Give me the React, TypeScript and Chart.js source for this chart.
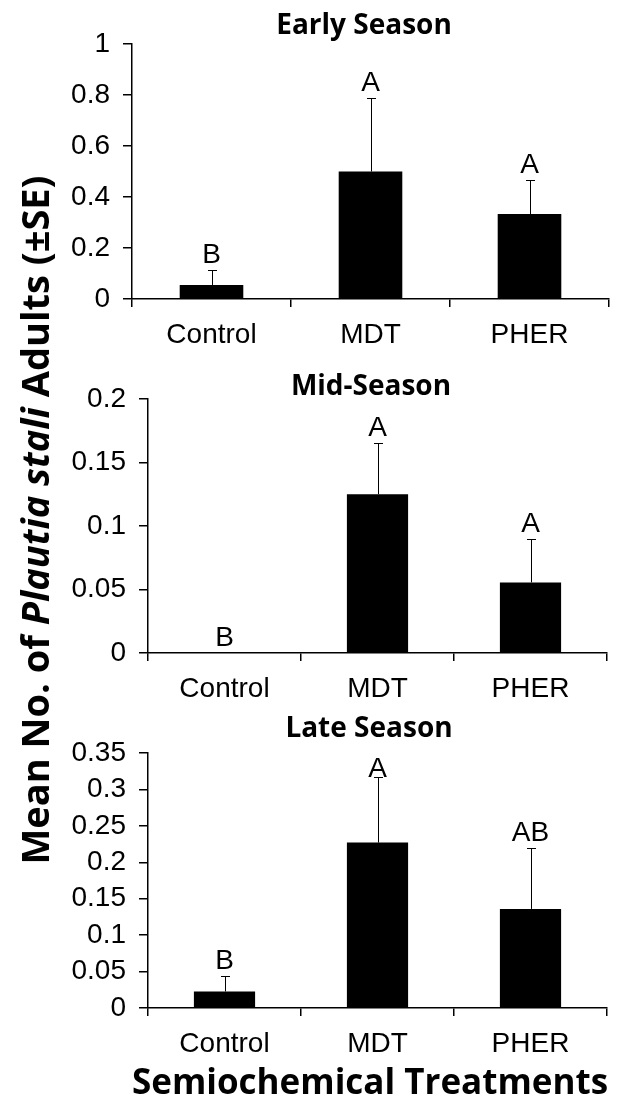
import React, { useEffect, useRef } from 'react';
import { Chart, registerables } from 'chart.js';

Chart.register(...registerables);

// ---------- data ----------
const categories = ['Control', 'MDT', 'PHER'];

const earlyMeans = [0.055, 0.5, 0.333];
const earlySE = [0.057, 0.29, 0.132];
const earlyLetters = ['B', 'A', 'A'];
const earlyTicks = [0, 0.2, 0.4, 0.6, 0.8, 1];

const midMeans = [0, 0.125, 0.0556];
const midSE = [0, 0.04, 0.034];
const midLetters = ['B', 'A', 'A'];
const midTicks = [0, 0.05, 0.1, 0.15, 0.2];

const lateMeans = [0.0227, 0.227, 0.136];
const lateSE = [0.0213, 0.09, 0.083];
const lateLetters = ['B', 'A', 'AB'];
const lateTicks = [0, 0.05, 0.1, 0.15, 0.2, 0.25, 0.3, 0.35];

const panelTitles = ['Early Season', 'Mid-Season', 'Late Season'];
const xAxisTitle = 'Semiochemical Treatments';

// ---------- styles ----------
const TICK_FONT = "'Liberation Sans', Arial, sans-serif";
const TITLE_FONT = "'Open Sans', Lato, sans-serif";
const TICK_SIZE = 28;

type PanelCfg = {
  top: number;
  height: number;
  padTop: number;
  padRight: number;
  yWidth: number;
  xHeight: number;
  means: number[];
  se: number[];
  letters: string[];
  ticks: number[];
  title: string;
  titleX: number;
  titleY: number;
  xTitle?: string;
  xTitleX?: number;
  xTitleY?: number;
};

const panels: PanelCfg[] = [
  {
    top: 0, height: 350, padTop: 44, padRight: 21, yWidth: 132, xHeight: 51,
    means: earlyMeans, se: earlySE, letters: earlyLetters, ticks: earlyTicks,
    title: panelTitles[0], titleX: 364, titleY: 34,
  },
  {
    top: 350, height: 350, padTop: 49, padRight: 23, yWidth: 148, xHeight: 47,
    means: midMeans, se: midSE, letters: midLetters, ticks: midTicks,
    title: panelTitles[1], titleX: 371, titleY: 45,
  },
  {
    top: 700, height: 398, padTop: 53, padRight: 23, yWidth: 148, xHeight: 90,
    means: lateMeans, se: lateSE, letters: lateLetters, ticks: lateTicks,
    title: panelTitles[2], titleX: 369, titleY: 37,
    xTitle: xAxisTitle, xTitleX: 370, xTitleY: 394,
  },
];

function Panel({ cfg }: { cfg: PanelCfg }) {
  const ref = useRef<HTMLCanvasElement | null>(null);

  useEffect(() => {
    if (!ref.current) return;
    const annot = {
      id: 'annot',
      afterDatasetsDraw(chart: any) {
        const ctx = chart.ctx;
        const y = chart.scales.y;
        const meta = chart.getDatasetMeta(0);
        const area = chart.chartArea;
        ctx.save();
        ctx.strokeStyle = '#000';
        ctx.lineWidth = 1;
        ctx.fillStyle = '#000';
        ctx.font = `${TICK_SIZE}px ${TICK_FONT}`;
        ctx.textAlign = 'center';
        ctx.textBaseline = 'alphabetic';
        cfg.means.forEach((m, i) => {
          const x = meta.data[i].x;
          const yBar = y.getPixelForValue(m);
          const yTop = y.getPixelForValue(m + cfg.se[i]);
          if (cfg.se[i] > 0) {
            ctx.beginPath();
            ctx.moveTo(Math.round(x) + 0.5, yBar);
            ctx.lineTo(Math.round(x) + 0.5, Math.round(yTop) + 0.5);
            ctx.moveTo(Math.round(x) - 4, Math.round(yTop) + 0.5);
            ctx.lineTo(Math.round(x) + 5, Math.round(yTop) + 0.5);
            ctx.stroke();
          }
          const base = Math.max(yTop - 7, area.top + 24);
          ctx.fillText(cfg.letters[i], x, base);
        });
        // panel title
        ctx.font = `bold 28px ${TITLE_FONT}`;
        ctx.fillText(cfg.title, cfg.titleX, cfg.titleY);
        if (cfg.xTitle) {
          ctx.font = `bold 35px ${TITLE_FONT}`;
          ctx.fillText(cfg.xTitle, cfg.xTitleX!, cfg.xTitleY!);
        }
        ctx.restore();
      },
    };

    const chart = new Chart(ref.current, {
      type: 'bar',
      data: {
        labels: categories,
        datasets: [
          {
            data: cfg.means,
            backgroundColor: '#000',
            borderWidth: 0,
            barPercentage: 0.4,
            categoryPercentage: 1,
          },
        ],
      },
      options: {
        responsive: false,
        animation: false,
        devicePixelRatio: 1,
        layout: { padding: { top: cfg.padTop, right: cfg.padRight, left: 0, bottom: 0 } },
        plugins: { legend: { display: false }, tooltip: { enabled: false }, title: { display: false } },
        scales: {
          x: {
            offset: true,
            grid: {
              display: true, drawOnChartArea: false, drawTicks: true, tickLength: 8,
              color: '#000', lineWidth: 1.5, offset: true,
            },
            border: { display: true, color: '#000', width: 1.5 },
            ticks: { color: '#000', font: { family: TICK_FONT, size: TICK_SIZE }, padding: 11, maxRotation: 0, autoSkip: false },
            afterFit: (s: any) => { s.height = cfg.xHeight; },
          },
          y: {
            min: 0,
            max: cfg.ticks[cfg.ticks.length - 1],
            grid: { display: true, drawOnChartArea: false, drawTicks: true, tickLength: 9, color: '#000', lineWidth: 1.5 },
            border: { display: true, color: '#000', width: 1.5 },
            ticks: {
              color: '#000', font: { family: TICK_FONT, size: TICK_SIZE }, padding: 13,
              autoSkip: false,
              callback: (v: any) => String(v),
            },
            afterBuildTicks: (s: any) => { s.ticks = cfg.ticks.map((v) => ({ value: v })); },
            afterFit: (s: any) => { s.width = cfg.yWidth; },
          },
        },
      },
      plugins: [annot],
    } as any);
    return () => chart.destroy();
  }, [cfg]);

  return (
    <canvas
      ref={ref}
      width={630}
      height={cfg.height}
      style={{ position: 'absolute', left: 0, top: cfg.top, width: 630, height: cfg.height, display: 'block' }}
    />
  );
}

export default function App() {
  return (
    <div style={{ position: 'absolute', left: 0, top: 0, width: 630, height: 1098, background: '#fff', overflow: 'hidden' }}>
      {panels.map((p, i) => (
        <Panel key={i} cfg={p} />
      ))}
      <div
        style={{
          position: 'absolute', left: 34 - 450, top: 520 - 25, width: 900, height: 50,
          lineHeight: '50px', textAlign: 'center', transform: 'rotate(-90deg)',
          fontFamily: TITLE_FONT, fontWeight: 700, fontSize: 38, whiteSpace: 'nowrap', color: '#000',
        }}
      >
        Mean No. of <i>Plautia stali</i> Adults (±SE)
      </div>
    </div>
  );
}
